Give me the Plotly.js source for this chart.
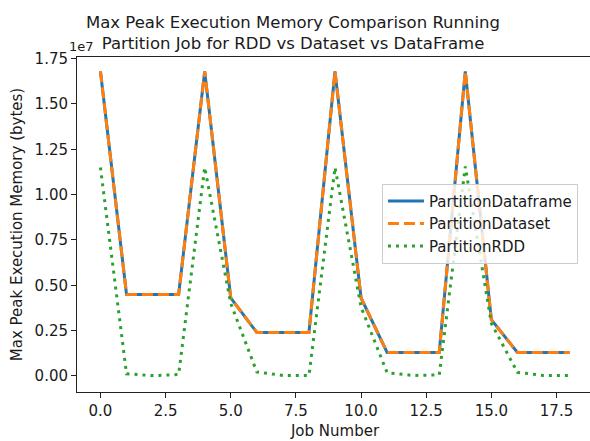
<!DOCTYPE html>
<html>
<head>
<meta charset="utf-8">
<script src="https://cdn.plot.ly/plotly-3.0.1.min.js"></script>
<style>
  html, body { margin: 0; padding: 0; overflow: hidden; background: #fff; }
  #chart { width: 594px; height: 441px; }
</style>
</head>
<body>
<div id="chart"></div>
<script>
// Job numbers
const jobNumbers = [0,1,2,3,4,5,6,7,8,9,10,11,12,13,14,15,16,17,18];
// Max peak execution memory (bytes)
const partitionDataframe = [1.68e7,0.45e7,0.45e7,0.45e7,1.68e7,0.43e7,0.24e7,0.24e7,0.24e7,1.68e7,0.43e7,0.13e7,0.13e7,0.13e7,1.68e7,0.31e7,0.13e7,0.13e7,0.13e7];
const partitionDataset   = [1.68e7,0.45e7,0.45e7,0.45e7,1.68e7,0.43e7,0.24e7,0.24e7,0.24e7,1.68e7,0.43e7,0.13e7,0.13e7,0.13e7,1.68e7,0.31e7,0.13e7,0.13e7,0.13e7];
const partitionRDD       = [1.15e7,0.012e7,0.002e7,0.008e7,1.15e7,0.40e7,0.022e7,0.003e7,0.002e7,1.15e7,0.38e7,0.018e7,0.003e7,0.006e7,1.155e7,0.29e7,0.02e7,0.003e7,0.002e7];
// Tick labels
const yTickVals = [0, 0.25e7, 0.5e7, 0.75e7, 1.0e7, 1.25e7, 1.5e7, 1.75e7];
const yTickText = ["0.00","0.25","0.50","0.75","1.00","1.25","1.50","1.75"];
const xTickVals = [0, 2.5, 5, 7.5, 10, 12.5, 15, 17.5];
const xTickText = ["0.0","2.5","5.0","7.5","10.0","12.5","15.0","17.5"];

const FONT = "DejaVu Sans, sans-serif";
const TXT = "#1a1a1a";

const traces = [
  { x: jobNumbers, y: partitionDataframe, name: "PartitionDataframe", mode: "lines",
    legendgroup: "a", line: { color: "#1f77b4", width: 3 } },
  { x: jobNumbers, y: partitionDataset, name: "PartitionDataset", mode: "lines",
    legendgroup: "b", line: { color: "#ff7f0e", width: 3, dash: "11px,5px" } },
  { x: jobNumbers, y: partitionRDD, name: "PartitionRDD", mode: "lines",
    legendgroup: "c", line: { color: "#2ca02c", width: 3, dash: "3px,5px" } }
];

const layout = {
  width: 594, height: 441,
  margin: { l: 77, r: 1, t: 57, b: 49 },
  paper_bgcolor: "#fff", plot_bgcolor: "#fff",
  font: { family: FONT, size: 15, color: TXT },
  title: {
    text: "Max Peak Execution Memory Comparison Running<br>Partition Job for RDD vs Dataset vs DataFrame",
    font: { family: FONT, size: 16.5, color: TXT },
    xref: "container", x: 293/594, xanchor: "center",
    yref: "container", y: 1 - 28/441, yanchor: "top"
  },
  xaxis: {
    range: [-0.9, 18.9],
    tickvals: xTickVals, ticktext: xTickText,
    ticks: "outside", ticklen: 5, tickwidth: 1, tickcolor: "#222",
    showline: true, mirror: true, linecolor: "#222", linewidth: 1,
    showgrid: false, zeroline: false,
    tickfont: { family: FONT, size: 15, color: TXT },
    title: { text: "Job Number", font: { family: FONT, size: 15, color: TXT }, standoff: 6 }
  },
  yaxis: {
    range: [-0.0883e7, 1.759e7],
    tickvals: yTickVals, ticktext: yTickText,
    ticks: "outside", ticklen: 5, tickwidth: 1, tickcolor: "#222",
    showline: true, mirror: true, linecolor: "#222", linewidth: 1,
    showgrid: false, zeroline: false,
    tickfont: { family: FONT, size: 15, color: TXT },
    title: { text: "Max Peak Execution Memory (bytes)", font: { family: FONT, size: 15, color: TXT }, standoff: 8 }
  },
  showlegend: true,
  legend: {
    x: 0.591, xanchor: "left", y: 0.622, yanchor: "top",
    bgcolor: "rgba(255,255,255,0.8)", bordercolor: "#cccccc", borderwidth: 1,
    font: { family: FONT, size: 15, color: TXT },
    tracegroupgap: 0, itemwidth: 36
  },
  annotations: [
    { text: "1e7", xref: "paper", yref: "paper", x: -0.02, y: 1.031,
      xanchor: "left", yanchor: "middle", showarrow: false,
      font: { family: FONT, size: 13, color: TXT } }
  ]
};

Plotly.newPlot("chart", traces, layout, { displayModeBar: false, staticPlot: true });
</script>
</body>
</html>
